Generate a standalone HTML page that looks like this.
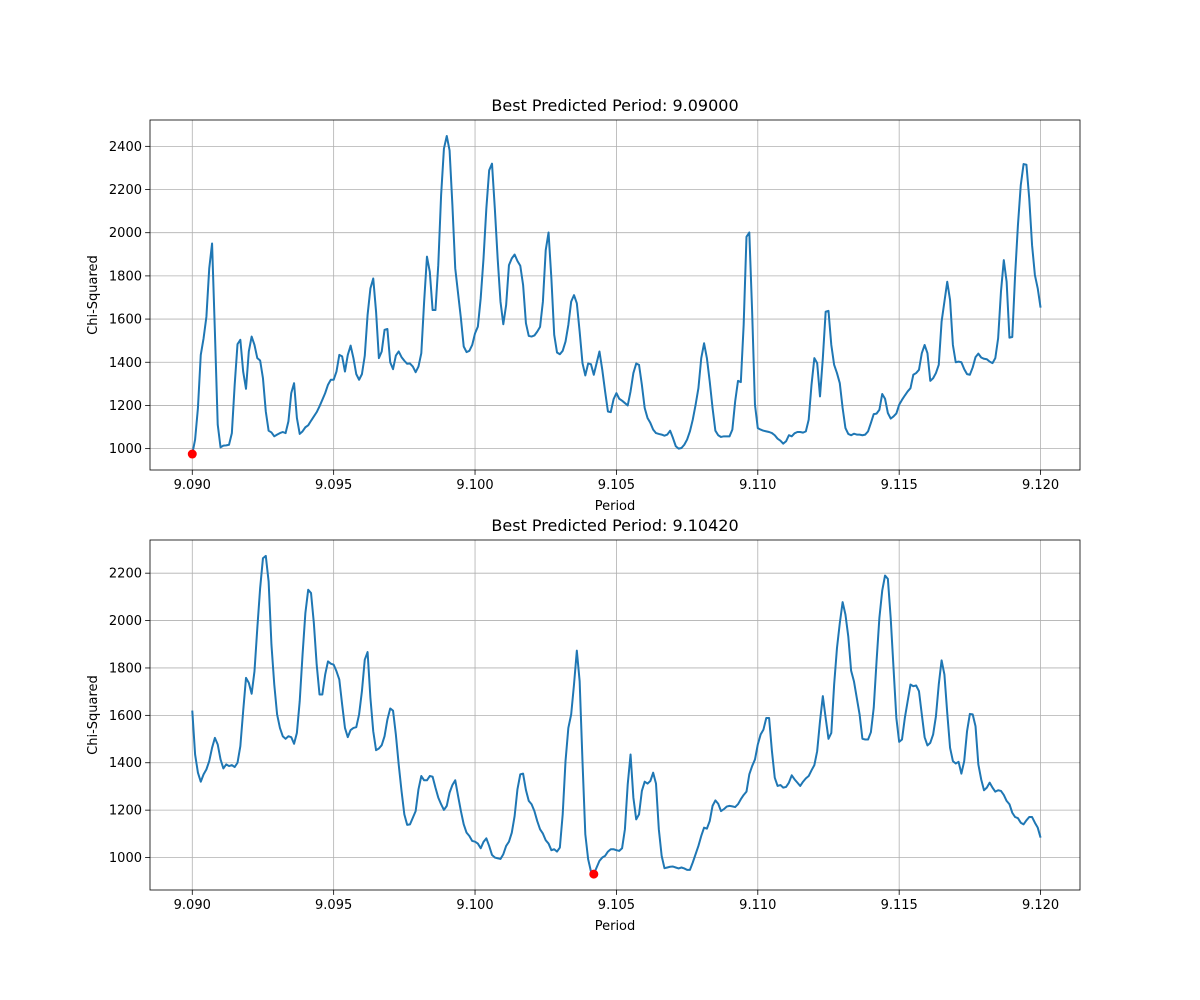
<!DOCTYPE html>
<html><head><meta charset="utf-8"><style>
body{margin:0;background:#fff;}
svg{display:block;font-family:"DejaVu Sans","Liberation Sans",sans-serif;}
</style></head><body>
<svg id="fig" width="1200" height="1000" viewBox="0 0 1200 1000" xmlns="http://www.w3.org/2000/svg"></svg>
<script>
const periodStart = 9.09;
const periodStep = 0.0001;
const xTicks = [9.090, 9.095, 9.100, 9.105, 9.110, 9.115, 9.120];
const xTickLabels = ["9.090","9.095","9.100","9.105","9.110","9.115","9.120"];
const yTicksTop = [1000,1200,1400,1600,1800,2000,2200,2400];
const yTicksBottom = [1000,1200,1400,1600,1800,2000,2200];
const titles = ["Best Predicted Period: 9.09000","Best Predicted Period: 9.10420"];
const bestTop = [9.0900, 975];
const bestBottom = [9.1042, 930];
const chiTop = [975,1042,1188,1434,1511,1611,1835,1950,1542,1111,1006,1014,1015,1018,1072,1296,1484,1504,1357,1277,1450,1519,1480,1419,1408,1326,1172,1083,1075,1057,1065,1072,1077,1072,1126,1257,1303,1142,1068,1080,1099,1108,1129,1149,1169,1196,1226,1257,1296,1319,1319,1357,1434,1427,1357,1434,1477,1419,1345,1319,1345,1430,1619,1742,1788,1634,1419,1450,1550,1554,1400,1368,1431,1450,1424,1407,1393,1394,1380,1354,1380,1442,1681,1889,1819,1642,1642,1850,2173,2389,2448,2381,2127,1835,1719,1604,1473,1447,1453,1480,1534,
1565,1696,1881,2112,2289,2320,2112,1881,1681,1576,1665,1850,1881,1899,1869,1847,1758,1581,1522,1519,1524,1542,1564,1681,1919,2001,1788,1527,1445,1437,1453,1496,1573,1681,1711,1673,1542,1396,1339,1394,1391,1342,1396,1450,1365,1265,1172,1169,1229,1257,1231,1222,1211,1200,1265,1350,1394,1388,1296,1188,1142,1119,1088,1072,1068,1065,1060,1065,1083,1049,1011,1000,1003,1018,1042,1080,1134,1203,1280,1419,1488,1419,1311,1188,1083,1062,1054,1057,1057,1057,1088,1219,1314,1308,1573,1981,2001,1634,1203,1095,1088,
1083,1080,1077,1072,1062,1046,1037,1023,1034,1062,1057,1071,1077,1077,1074,1080,1134,1296,1419,1396,1242,1419,1634,1638,1480,1388,1350,1303,1188,1095,1068,1062,1069,1065,1065,1062,1065,1080,1119,1160,1162,1180,1253,1231,1165,1139,1149,1163,1203,1226,1246,1265,1280,1342,1350,1365,1442,1480,1442,1314,1326,1350,1388,1588,1681,1773,1688,1480,1400,1403,1400,1368,1345,1342,1376,1424,1440,1422,1416,1414,1403,1396,1419,1511,1727,1873,1773,1514,1517,1804,2035,2220,2318,2315,2158,1942,1804,1742,1653];
const chiBottom = [1620,1435,1358,1320,1351,1372,1407,1463,1505,1477,1414,1376,1393,1386,1390,1382,1400,1470,1618,1758,1737,1691,1786,1968,2137,2263,2273,2165,1898,1730,1604,1547,1512,1501,1512,1508,1480,1526,1660,1856,2032,2130,2116,1989,1814,1688,1688,1772,1828,1818,1814,1786,1751,1646,1547,1508,1538,1547,1550,1604,1702,1835,1867,1674,1533,1453,1460,1474,1512,1582,1629,1620,1519,1393,1281,1182,1138,1140,1168,1196,1288,1344,1326,1326,1344,1341,1295,1253,1225,1201,1218,1274,1306,1326,1260,1196,1140,1105,1091,1070,1067,
1059,1039,1066,1081,1049,1011,1000,997,994,1014,1049,1067,1105,1175,1288,1351,1354,1285,1239,1225,1196,1154,1119,1101,1073,1059,1031,1035,1025,1042,1182,1407,1547,1604,1730,1873,1744,1407,1098,993,941,930,958,986,1000,1007,1025,1035,1035,1031,1028,1039,1119,1309,1435,1253,1161,1182,1281,1320,1312,1323,1358,1312,1119,1007,955,958,961,962,958,954,958,954,948,948,979,1014,1049,1091,1126,1122,1154,1218,1241,1227,1196,1204,1215,1218,1216,1213,1225,1246,1264,1278,1351,1386,1414,1477,1519,
1540,1589,1589,1449,1337,1302,1306,1295,1298,1316,1347,1330,1316,1302,1320,1334,1344,1368,1390,1449,1575,1681,1589,1501,1526,1730,1884,1989,2078,2025,1933,1789,1744,1674,1604,1501,1498,1498,1529,1632,1828,2011,2126,2190,2176,2011,1800,1589,1488,1498,1589,1660,1730,1723,1726,1702,1604,1508,1473,1484,1519,1596,1730,1832,1772,1610,1463,1407,1397,1404,1354,1407,1533,1606,1604,1554,1393,1330,1284,1295,1316,1295,1278,1284,1281,1264,1239,1225,1189,1171,1166,1147,1140,1157,1171,1171,1147,1126,1084];

const NS="http://www.w3.org/2000/svg";
const svg=document.getElementById('fig');
function mk(tag,attrs,parent){const e=document.createElementNS(NS,tag);for(const k in attrs)e.setAttribute(k,attrs[k]);(parent||svg).appendChild(e);return e;}

function drawPanel(cfg){
  const L=150,R=1080,T=cfg.top,B=cfg.top+350;
  const xmin=9.088505,xmax=9.121395;
  const xs=v=>L+(v-xmin)/(xmax-xmin)*(R-L);
  const ys=v=>B-(v-cfg.ymin)/(cfg.ymax-cfg.ymin)*(B-T);
  const g=mk('g',{});
  
  
  const grid=mk('g',{},g);
  
  
  xTicks.forEach((t,i)=>{
    const x=xs(t);
    mk('line',{x1:x,x2:x,y1:T,y2:B,stroke:'#b0b0b0','stroke-width':0.8},grid);
    mk('line',{x1:x,x2:x,y1:B,y2:B+4.9,stroke:'#000','stroke-width':0.8},g);
    const tx=mk('text',{x:x,y:B+19,'font-size':13,'text-anchor':'middle',fill:'#000'},g);
    tx.textContent=xTickLabels[i];
    
    
  });
  cfg.yticks.forEach(t=>{
    const y=ys(t);
    mk('line',{x1:L,x2:R,y1:y,y2:y,stroke:'#b0b0b0','stroke-width':0.8},grid);
    mk('line',{x1:L-4.9,x2:L,y1:y,y2:y,stroke:'#000','stroke-width':0.8},g);
    const tx=mk('text',{x:L-8,y:y+4.5,'font-size':13,'text-anchor':'end',fill:'#000'},g);
    tx.textContent=String(t);
    
    
  });
  const pts=cfg.data.map((v,i)=>xs(periodStart+i*periodStep).toFixed(2)+','+ys(v).toFixed(2)).join(' ');
  const line=mk('polyline',{points:pts,fill:'none',stroke:'#1f77b4','stroke-width':2,'stroke-linejoin':'round'},g);
  
  
  const dot=mk('circle',{cx:xs(cfg.best[0]),cy:ys(cfg.best[1]),r:4.5,fill:'#ff0000'},g);
  
  
  const frame=mk('rect',{x:L,y:T,width:R-L,height:B-T,fill:'none',stroke:'#000','stroke-width':0.8},g);
  
  
  const ti=mk('text',{x:(L+R)/2,y:T-9,'font-size':16,'text-anchor':'middle',fill:'#000'},g);
  ti.textContent=cfg.title;
  
  
  const xl=mk('text',{x:(L+R)/2,y:B+40,'font-size':13,'text-anchor':'middle',fill:'#000'},g);
  xl.textContent='Period';
  
  
  const cy=(T+B)/2;
  const yl=mk('text',{x:97,y:cy,'font-size':13,'text-anchor':'middle',fill:'#000',transform:'rotate(-90 97 '+cy+')'},g);
  yl.textContent='Chi-Squared';
  
  
}
drawPanel({name:'top-panel',top:120,ymin:901,ymax:2522,yticks:yTicksTop,data:chiTop,best:bestTop,title:titles[0]});
drawPanel({name:'bottom-panel',top:540,ymin:863,ymax:2340,yticks:yTicksBottom,data:chiBottom,best:bestBottom,title:titles[1]});
</script>
</body></html>
